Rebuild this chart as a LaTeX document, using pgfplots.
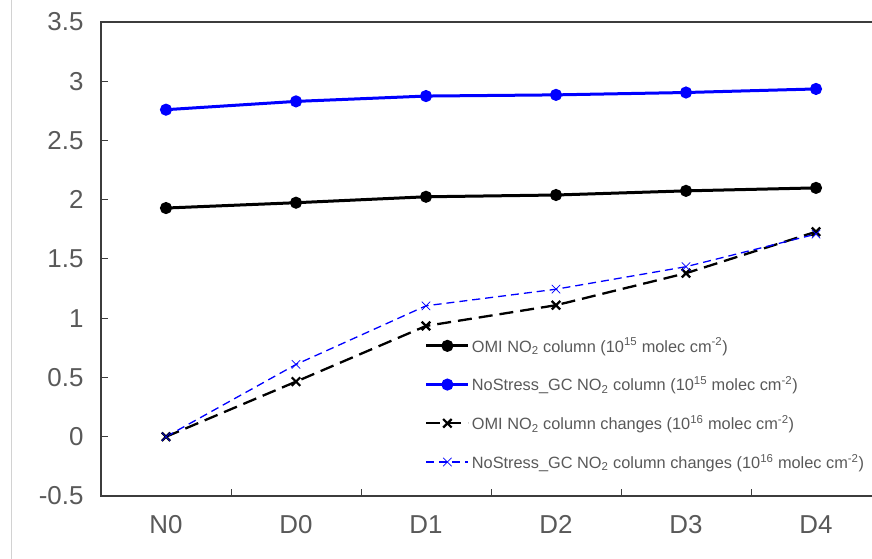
\documentclass[border=0pt]{standalone}
\usepackage{pgfplots}
\pgfplotsset{compat=1.18}
\usepackage{fontspec}
\setmainfont{Liberation Sans}
\definecolor{txtgray}{RGB}{89,89,89}
\definecolor{axgray}{RGB}{60,60,60}
\definecolor{gcblue}{RGB}{0,0,255}

\begin{document}
\begin{tikzpicture}
\begin{axis}[
    name=ax,
    scale only axis,
    width=780bp, height=474bp,
    xmin=-0.5, xmax=5.5,
    ymin=-0.5, ymax=3.5,
    axis line style={axgray, line width=1.3bp},
    tick style={axgray, line width=1bp},
    tick align=inside,
    tick pos=left,
    major tick length=7bp,
    ytick={-0.5,0,0.5,1,1.5,2,2.5,3,3.5},
    yticklabels={-0.5,0,0.5,1,1.5,2,2.5,3,3.5},
    yticklabel style={font=\fontsize{26}{28}\selectfont, text=txtgray, xshift=-14bp},
    xtick={0.5,1.5,2.5,3.5,4.5},
    xticklabels={},
    extra x ticks={0,1,2,3,4,5},
    extra x tick labels={N0,D0,D1,D2,D3,D4},
    extra x tick style={major tick length=0pt},
    xticklabel style={font=\fontsize{26}{28}\selectfont, text=txtgray, yshift=-16bp},
    legend cell align=left,
    legend style={at={(0.415,0.338)}, anchor=north west, draw=none, fill=none,
        inner sep=0pt, row sep=19bp,
        font=\fontsize{16.4}{18}\selectfont, text=txtgray,
        nodes={inner sep=2bp}},
    legend image code/.code={
        \draw[mark repeat=2, mark phase=2, #1]
            plot coordinates {(0bp,0bp) (21bp,0bp) (42bp,0bp)};
    },
]
% OMI NO2 column (1e15)
\addplot[black, line width=3bp, mark=*, mark size=4.5bp] coordinates {
    (0,1.93) (1,1.975) (2,2.025) (3,2.04) (4,2.075) (5,2.10)
};
\addlegendentry{OMI NO\textsubscript{2} column (10\textsuperscript{15} molec cm\textsuperscript{-2})}
% NoStress_GC NO2 column (1e15)
\addplot[gcblue, line width=3bp, mark=*, mark size=4.5bp] coordinates {
    (0,2.76) (1,2.83) (2,2.875) (3,2.885) (4,2.905) (5,2.935)
};
\addlegendentry{NoStress\_GC NO\textsubscript{2} column (10\textsuperscript{15} molec cm\textsuperscript{-2})}
% OMI changes (1e16)
\addplot[black, line width=2.3bp, dash pattern=on 14bp off 7bp,
    mark=x, mark size=6bp, mark options={solid, line width=2.2bp}] coordinates {
    (0,0) (1,0.465) (2,0.935) (3,1.11) (4,1.38) (5,1.73)
};
\addlegendentry{OMI NO\textsubscript{2} column changes (10\textsuperscript{16} molec cm\textsuperscript{-2})}
% GC changes (1e16)
\addplot[gcblue, line width=1.3bp, dash pattern=on 8bp off 5bp,
    mark=x, mark size=6bp, mark options={solid, line width=0.7bp}] coordinates {
    (0,0) (1,0.61) (2,1.105) (3,1.245) (4,1.435) (5,1.71)
};
\addlegendentry{NoStress\_GC NO\textsubscript{2} column changes (10\textsuperscript{16} molec cm\textsuperscript{-2})}
\end{axis}
\draw[gray!35, line width=1bp] ([xshift=-89bp,yshift=-63bp]ax.south west) -- ([xshift=-89bp,yshift=496bp]ax.south west);
\pgfresetboundingbox
\path[use as bounding box] ([xshift=-101bp,yshift=-63bp]ax.south west) rectangle ([xshift=771bp,yshift=496bp]ax.south west);
\end{tikzpicture}
\end{document}
